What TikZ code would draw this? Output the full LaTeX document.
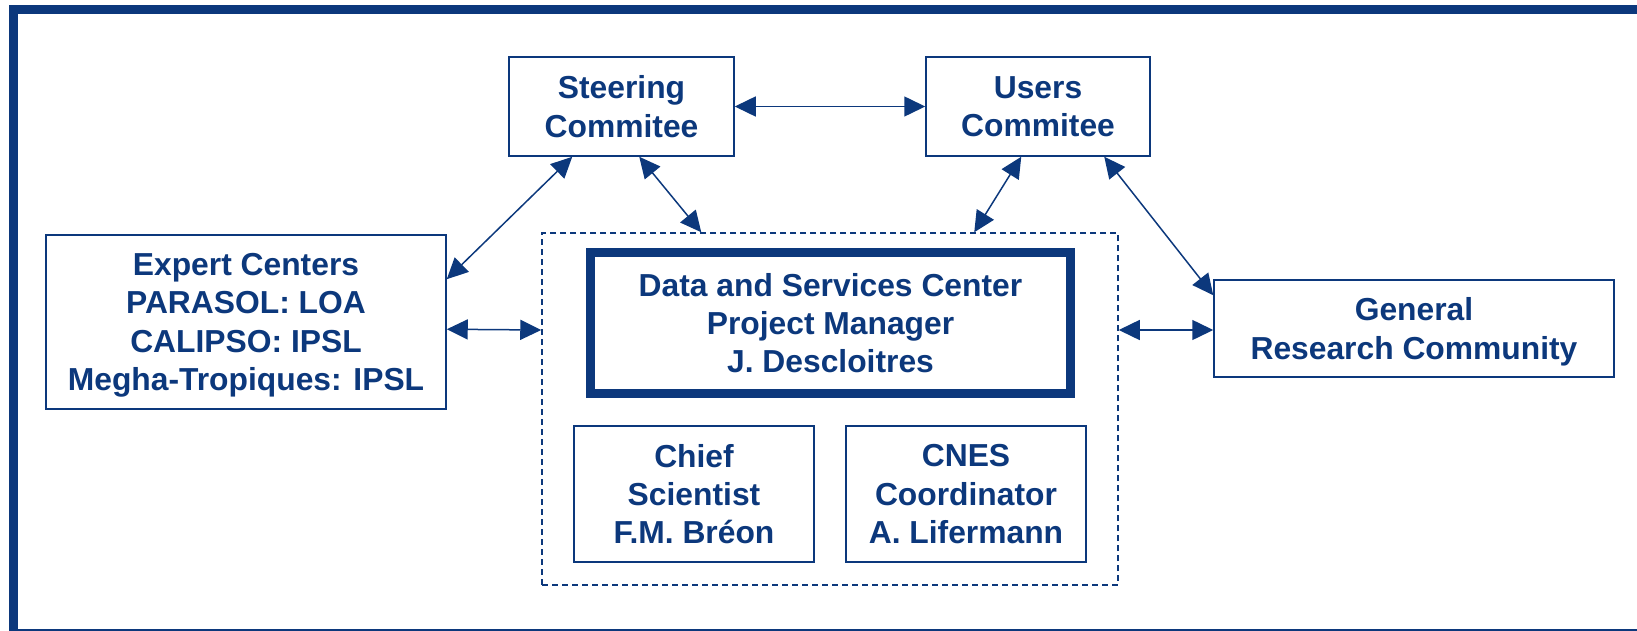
\documentclass[tikz,border=0pt]{standalone}
\usepackage{fontspec}
\setmainfont{Liberation Sans}
\usetikzlibrary{arrows.meta}
\definecolor{navy}{RGB}{12,56,124}
\begin{document}
\begin{tikzpicture}[x=0.5pt,y=-0.5pt,
  orgbox/.style={draw=navy, line width=0.75pt, rectangle, inner sep=0pt,
    align=center, text=navy, text depth=0pt,
    font=\bfseries\fontsize{15.9}{19.2}\selectfont},
  teambox/.style={draw=navy, line width=0.75pt, dash pattern=on 3pt off 2pt,
    rectangle, inner sep=0pt},
  headbox/.style={orgbox, line width=4.5pt},
  biarrow/.style={draw=navy, line width=0.75pt,
    {Triangle[length=10.5pt,width=10pt]}-{Triangle[length=10.5pt,width=10pt]}},
]
\useasboundingbox (0,0) rectangle (1637,631);

% outer frame
\fill[navy] (9,5) rectangle (1637,14);
\fill[navy] (9,5) rectangle (18,631);
\draw[navy, line width=0.75pt] (9,630) -- (1637,630);

% committees
\node[orgbox, minimum width=112.5pt, minimum height=49.5pt] (steer) at (621.5,106.5) {Steering\\Commitee};
\node[orgbox, minimum width=112pt, minimum height=49.5pt] (users) at (1038,106.5) {Users\\Commitee};

% side partners
\node[orgbox, minimum width=200pt, minimum height=87pt] (expert) at (246,322)
  {Expert Centers\\PARASOL: LOA\\CALIPSO: IPSL\\Megha-Tropiques: IPSL};
\node[orgbox, minimum width=200pt, minimum height=48.5pt] (general) at (1414,328.5)
  {General\\Research Community};

% data and services team
\node[teambox, minimum width=288pt, minimum height=176pt] (team) at (830,409) {};
\node[headbox, minimum width=240pt, minimum height=70.5pt] (data) at (830.5,323)
  {Data and Services Center\\Project Manager\\J. Descloitres};
\node[orgbox, minimum width=120pt, minimum height=68pt] (chief) at (694,494)
  {Chief\\Scientist\\F.M. Bréon};
\node[orgbox, minimum width=120pt, minimum height=68pt] (cnes) at (966,494)
  {CNES\\Coordinator\\A. Lifermann};

% links
\draw[biarrow] (steer.east) -- (users.west);
\draw[biarrow] ([xshift=32pt]steer.south west) -- ([yshift=-22.5pt]expert.north east);
\draw[biarrow] ([xshift=65.5pt]steer.south west) -- ([xshift=80pt]team.north west);
\draw[biarrow] ([xshift=48pt]users.south west) -- ([xshift=216.5pt]team.north west);
\draw[biarrow] ([xshift=89.5pt]users.south west) -- ([yshift=-8pt]general.north west);
\draw[biarrow] ([yshift=-47.5pt]expert.north east) -- ([yshift=39.5pt]team.west);
\draw[biarrow] ([yshift=39.5pt]team.east) -- ([yshift=-0.75pt]general.west);
\end{tikzpicture}
\end{document}
